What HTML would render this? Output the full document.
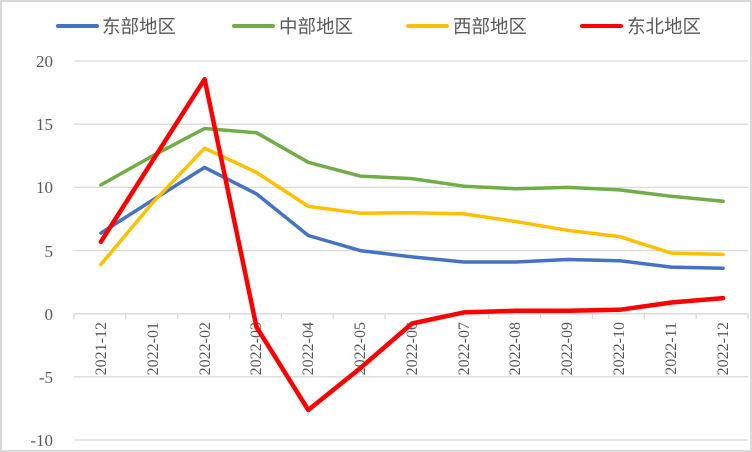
<!DOCTYPE html>
<html><head><meta charset="utf-8"><style>
body{margin:0;background:#fff}
svg{display:block}
</style></head><body>
<svg width="752" height="452" xmlns="http://www.w3.org/2000/svg">
<rect x="1" y="1" width="750" height="450" fill="#fff" stroke="#d9d9d9" stroke-width="2"/>
<g stroke="#d9d9d9" stroke-width="1.3">
<line x1="74" y1="61" x2="748" y2="61"/>
<line x1="74" y1="124.2" x2="748" y2="124.2"/>
<line x1="74" y1="187.4" x2="748" y2="187.4"/>
<line x1="74" y1="250.6" x2="748" y2="250.6"/>
<line x1="74" y1="376.8" x2="748" y2="376.8"/>
<line x1="74" y1="440" x2="748" y2="440"/>
<line x1="74" y1="313.8" x2="748" y2="313.8"/>
<g id="t"></g>
</g>
<g stroke="#d9d9d9" stroke-width="1.3">
<line x1="74" y1="314" x2="74" y2="319"/><line x1="125.8" y1="314" x2="125.8" y2="319"/><line x1="177.7" y1="314" x2="177.7" y2="319"/><line x1="229.5" y1="314" x2="229.5" y2="319"/><line x1="281.4" y1="314" x2="281.4" y2="319"/><line x1="333.2" y1="314" x2="333.2" y2="319"/><line x1="385.1" y1="314" x2="385.1" y2="319"/><line x1="436.9" y1="314" x2="436.9" y2="319"/><line x1="488.8" y1="314" x2="488.8" y2="319"/><line x1="540.6" y1="314" x2="540.6" y2="319"/><line x1="592.5" y1="314" x2="592.5" y2="319"/><line x1="644.3" y1="314" x2="644.3" y2="319"/><line x1="696.2" y1="314" x2="696.2" y2="319"/><line x1="748" y1="314" x2="748" y2="319"/>
</g>
<g font-family="Liberation Serif, serif" font-size="17" fill="#595959" text-anchor="end">
<text x="53" y="67">20</text><text x="53" y="130">15</text><text x="53" y="193">10</text><text x="53" y="257">5</text><text x="53" y="320">0</text><text x="53" y="383">-5</text><text x="53" y="446">-10</text>
</g>
<g font-family="Liberation Serif, serif" font-size="16" fill="#595959" text-anchor="end">
<text transform="translate(106,322) rotate(-90)">2021-12</text>
<text transform="translate(158,322) rotate(-90)">2022-01</text>
<text transform="translate(210,322) rotate(-90)">2022-02</text>
<text transform="translate(261,322) rotate(-90)">2022-03</text>
<text transform="translate(313,322) rotate(-90)">2022-04</text>
<text transform="translate(365,322) rotate(-90)">2022-05</text>
<text transform="translate(417,322) rotate(-90)">2022-06</text>
<text transform="translate(469,322) rotate(-90)">2022-07</text>
<text transform="translate(520,322) rotate(-90)">2022-08</text>
<text transform="translate(572,322) rotate(-90)">2022-09</text>
<text transform="translate(624,322) rotate(-90)">2022-10</text>
<text transform="translate(676,322) rotate(-90)">2022-11</text>
<text transform="translate(728,322) rotate(-90)">2022-12</text>
</g>
<g fill="none" stroke-linejoin="round" stroke-linecap="round">
<polyline stroke="#4472c4" stroke-width="3.5" points="100.9,233.1 152.8,200.0 204.6,167.4 256.5,193.9 308.3,235.5 360.2,250.6 412,256.9 463.9,262.0 515.7,262.0 567.6,259.5 619.4,260.7 671.3,267.1 723.1,268.3"/>
<polyline stroke="#70ad47" stroke-width="3.5" points="100.9,184.9 152.8,155.8 204.6,128.5 256.5,132.7 308.3,162.3 360.2,176.1 412,178.6 463.9,186.2 515.7,188.7 567.6,187.4 619.4,189.9 671.3,196.3 723.1,201.2"/>
<polyline stroke="#ffc000" stroke-width="3.5" points="100.9,264.5 152.8,202.6 204.6,148.2 256.5,172.4 308.3,206.4 360.2,213.2 412,212.7 463.9,213.9 515.7,221.5 567.6,230.3 619.4,236.6 671.3,253.1 723.1,254.4"/>
<polyline stroke="#ff0000" stroke-width="4.5" points="100.9,241.8 152.8,160.3 204.6,79.2 256.5,327.0 308.3,410.0 360.2,368.2 412,323.5 463.9,312.4 515.7,310.8 567.6,310.8 619.4,309.8 671.3,302.5 723.1,298.1"/>
</g>
<g stroke-width="4" stroke-linecap="round">
<line x1="58" y1="26" x2="97" y2="26" stroke="#4472c4"/>
<line x1="234" y1="26" x2="273" y2="26" stroke="#70ad47"/>
<line x1="408" y1="26" x2="447" y2="26" stroke="#ffc000"/>
<line x1="582" y1="26" x2="621" y2="26" stroke="#ff0000"/>
</g>
<g font-family="Liberation Sans, 'Noto Sans CJK SC', sans-serif" font-size="18.5" fill="#595959">
<text x="102" y="33">东部地区</text>
<text x="279" y="33">中部地区</text>
<text x="453" y="33">西部地区</text>
<text x="627" y="33">东北地区</text>
</g>
</svg>
</body></html>
